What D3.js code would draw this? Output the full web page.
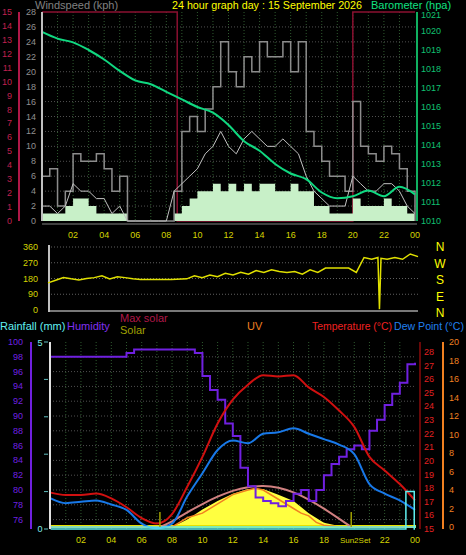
<!DOCTYPE html><html><head><meta charset="utf-8"><script src="https://cdn.jsdelivr.net/npm/d3@7"></script>
<style>body{margin:0;background:#000}svg{display:block}text{font-family:"Liberation Sans",Arial,sans-serif}</style></head><body>
<script>
// ---- data ----
const hours = d3.range(0,25);
const halfHours = d3.range(0,24.01,0.5);
const windGust = [6,7,2,4,9,8,8,9,7,4,6,0,0,0,0,0,0,4,12,14,12,15,18,24,20,18,22,20,24,22,22,24,20,24,12,10,8,6,6,4,16,10,9,8,10,9,7,4,0];
const windMid  = [2,2,1,2,5,4,4,3,3,1,2,0,0,0,0,0,0,4,5,6,7,9,10,12,10,9,11,12,11,10,10,11,10,9,6,4,3,2,2,2,6,5,4,4,5,5,4,2,1];
const windAvg  = [1,1,1,2,3,3,2,1,1,1,1,0,0,0,0,0,0,1,2,3,4,4,5,4,5,4,5,4,5,5,4,4,5,4,4,2,2,1,1,1,3,2,2,2,3,2,2,1,0];
const baro = [1019.95,1019.6,1019.4,1019.0,1018.5,1017.9,1017.4,1017.2,1016.8,1016.4,1016.0,1015.7,1015.05,1014.2,1013.7,1013.0,1012.5,1012.2,1011.5,1011.2,1011.3,1011.6,1011.3,1011.8,1011.4];
const dirTimes = [0,0.5,1,1.5,2,2.5,3,3.5,4,4.5,5,5.5,6,7,8,9,9.5,10,10.5,11,11.5,12,12.5,13,13.5,14,14.5,15,15.5,16,16.5,17,17.5,18,19,19.5,20,20.5,21,21.4,21.5,21.6,22,22.5,23,23.5,24];
const dirVals  = [155,170,185,178,172,180,185,195,178,190,185,178,175,175,175,178,195,185,200,190,210,200,215,205,225,215,230,220,215,220,205,230,215,240,240,240,215,300,290,300,5,295,290,300,290,320,305];
const tempC = [17.67,17.5,17.5,17.6,17.25,16.6,15.8,15.4,16.1,18.1,20.3,22.75,24.5,25.6,26.3,26.2,26.3,25.4,24.7,23.7,22.5,20.3,19.3,18.3,17.1];
const dewC  = [17.25,16.9,17.0,17.1,16.8,16.4,15.4,15.05,15.4,17.4,19.1,20.8,21.5,21.3,22.0,22.1,22.4,22.0,21.6,21.2,20.5,18.3,17.6,17.1,16.4];
const humidity = [98,98,98,98,98,98,98,98,98,98,98.5,99,99,99,99,99,99,99,99,98.5,95.4,93.5,92.2,89,87.3,83,80.5,79,78.5,78.2,77.8,78.5,79.5,80,78.5,80,82,83.5,84.5,85.5,86,85.5,88,89.5,91.5,93,94.5,97,97.2];
const solarT = [7,8,8.5,9,10,11,12,13,14,15,16,17,18,19,20,24];
const solarV = [0,20,80,160,380,560,720,820,820,700,560,300,90,20,0,0];
const maxSolarT = [7.2,8,9,10,11,12,13,14,15,16,17,18,19,19.8];
const maxSolarV = [0,110,320,500,660,790,870,895,860,760,600,400,180,0];
const uvT = [0,8,8.5,9,10,11,12,13,13.5,14,15,16,16.5,17,17.5,18,19,24];
const uvV = [0,0,0.5,1,1.5,2.5,3.5,4,4.2,4,3,2,1.5,1.2,0.5,0.2,0,0];
const rainT = [0,23.4,23.95,24];
const rainV = [0,1.0,0,0];
const hourLabels = ["02","04","06","08","10","12","14","16","18","20","22","00"];
const dirLabels = ["N","W","S","E","N"];

const svg = d3.select("body").append("svg").attr("width",466).attr("height",555);
const fs = 10;
function txt(x,y,s,c,size,anchor){return svg.append("text").attr("x",x).attr("y",y).attr("fill",c).attr("font-size",size||fs).attr("text-anchor",anchor||"start").text(s);}
function grid(g,x,y,xs,ys,x0,x1,y0,y1){
  xs.forEach(v=>g.append("line").attr("x1",x(v)).attr("x2",x(v)).attr("y1",y0).attr("y2",y1).attr("stroke","#2f5a2f").attr("stroke-dasharray","1,2"));
  ys.forEach(v=>g.append("line").attr("x1",x0).attr("x2",x1).attr("y1",y(v)).attr("y2",y(v)).attr("stroke","#505050").attr("stroke-dasharray","1,2"));
}
function hourAxis(x,y){hourLabels.forEach((l,i)=>txt(x((i+1)*2),y,l,"#d4d400",9,"middle"));}

// ---- top panel ----
const xT = d3.scaleLinear().domain([0,24]).range([42,415]);
const yW = d3.scaleLinear().domain([0,28]).range([221,12]);
const yB = d3.scaleLinear().domain([1010,1021]).range([221,12]);
const yR = d3.scaleLinear().domain([0,15]).range([221,12]);
const gT = svg.append("g");
grid(gT,xT,yW,d3.range(1,24),d3.range(2,28,2),42,415,12,221);
gT.append("path").attr("d",d3.line()([[xT(0),12],[xT(8.7),12],[xT(8.7),221],[xT(20),221],[xT(20),12],[xT(24),12]])).attr("fill","none").attr("stroke","#8a1030").attr("stroke-width",1.5);
gT.append("path").datum(halfHours).attr("fill","#c8f0c8").attr("d",d3.area().curve(d3.curveStepAfter).x(t=>xT(t)).y0(yW(0)).y1((t,i)=>yW(windAvg[i])));
gT.append("path").datum(halfHours).attr("fill","none").attr("stroke","#8c8c8c").attr("stroke-width",1.5).attr("d",d3.line().curve(d3.curveStepAfter).x(t=>xT(t)).y((t,i)=>yW(windGust[i])));
gT.append("path").datum(halfHours).attr("fill","none").attr("stroke","#c0c0c0").attr("d",d3.line().x(t=>xT(t)).y((t,i)=>yW(windMid[i])));
gT.append("path").datum(hours).attr("fill","none").attr("stroke","#10d880").attr("stroke-width",2).attr("d",d3.line().curve(d3.curveMonotoneX).x(t=>xT(t)).y((t,i)=>yB(baro[i])));
gT.append("line").attr("x1",42).attr("x2",42).attr("y1",12).attr("y2",221).attr("stroke","#c0c0c0").attr("stroke-width",2);
gT.append("line").attr("x1",19).attr("x2",19).attr("y1",12).attr("y2",221).attr("stroke","#b01848").attr("stroke-width",2);
gT.append("line").attr("x1",417).attr("x2",417).attr("y1",12).attr("y2",221).attr("stroke","#10b060").attr("stroke-width",2);
gT.append("line").attr("x1",42).attr("x2",417).attr("y1",224).attr("y2",224).attr("stroke","#404040").attr("stroke-width",2);
d3.range(0,29,2).forEach(v=>txt(36,yW(v)+3,v,"#909090",9,"end"));
d3.range(0,16).forEach(v=>txt(12,yR(v)+3,v,"#c02050",9,"end"));
d3.range(1010,1022).forEach(v=>txt(421,v===1021?yB(v)+6:yB(v)+3,v,"#10c070",9));
hourAxis(xT,238);
txt(35,9,"Windspeed (kph)","#808080",11);
txt(172,9,"24 hour graph day : 15 September 2026","#ffff00",11).attr("textLength",190).attr("lengthAdjust","spacingAndGlyphs");
txt(371,9,"Barometer (hpa)","#10e080",11);

// ---- direction panel ----
const xD = d3.scaleLinear().domain([0,24]).range([48,418]);
const yD = d3.scaleLinear().domain([0,360]).range([310,247]);
const gD = svg.append("g");
[90,180,270,360].forEach(v=>gD.append("line").attr("x1",48).attr("x2",418).attr("y1",yD(v)).attr("y2",yD(v)).attr("stroke","#606060").attr("stroke-dasharray","1,2"));
gD.append("line").attr("x1",48).attr("x2",418).attr("y1",311).attr("y2",311).attr("stroke","#a0a0a0").attr("stroke-width",1.5);
gD.append("line").attr("x1",49).attr("x2",49).attr("y1",245).attr("y2",312).attr("stroke","#c0c0c0").attr("stroke-width",2);
gD.append("path").attr("fill","none").attr("stroke","#e0e000").attr("stroke-width",1.5).attr("d",d3.line().x((t)=>xD(t)).y((t,i)=>yD(dirVals[i]))(dirTimes));
[0,90,180,270,360].forEach(v=>txt(38,yD(v)+3,v,"#d4d400",9,"end"));
dirLabels.forEach((l,i)=>txt(440,251+i*16.5,l,"#ffff00",12,"middle"));

// ---- bottom panel ----
const xB = d3.scaleLinear().domain([0,24]).range([50.6,415]);
const yH = d3.scaleLinear().domain([75,100]).range([527,342]);
const yTe = d3.scaleLinear().domain([15,28]).range([529,352]);
const yUV = d3.scaleLinear().domain([0,20]).range([527,342]);
const yS = d3.scaleLinear().domain([0,4000]).range([527,342]);
const yRn = d3.scaleLinear().domain([0,5]).range([529,342]);
const gB = svg.append("g");
grid(gB,xB,yH,d3.range(1,24),d3.range(76,100,2),50,416,342,529);
gB.append("path").datum(solarT).attr("fill","#ffff40").attr("d",d3.area().x(t=>xB(t)).y0(yS(0)).y1((t,i)=>yS(solarV[i])));
gB.append("rect").attr("x",50).attr("y",525).attr("width",366).attr("height",3).attr("fill","#e8e000");
gB.append("path").datum(maxSolarT).attr("fill","none").attr("stroke","#d08080").attr("stroke-width",2).attr("d",d3.line().curve(d3.curveBasis).x(t=>xB(t)).y((t,i)=>yS(maxSolarV[i])));
gB.append("path").datum(uvT).attr("fill","none").attr("stroke","#f08020").attr("stroke-width",1.5).attr("d",d3.line().x(t=>xB(t)).y((t,i)=>yUV(uvV[i])));
gB.append("path").datum(halfHours).attr("fill","none").attr("stroke","#7020e0").attr("stroke-width",2).attr("d",d3.line().curve(d3.curveStepAfter).x(t=>xB(t)).y((t,i)=>yH(humidity[i])));
gB.append("path").datum(hours).attr("fill","none").attr("stroke","#d01010").attr("stroke-width",2).attr("d",d3.line().curve(d3.curveMonotoneX).x(t=>xB(t)).y((t,i)=>yTe(tempC[i])));
gB.append("path").datum(hours).attr("fill","none").attr("stroke","#1878e8").attr("stroke-width",2).attr("d",d3.line().curve(d3.curveMonotoneX).x(t=>xB(t)).y((t,i)=>yTe(dewC[i])));
gB.append("path").datum(rainT).attr("fill","none").attr("stroke","#60f0f0").attr("stroke-width",1.5).attr("d",d3.line().curve(d3.curveStepAfter).x(t=>xB(t)).y((t,i)=>yRn(rainV[i])));
gB.append("line").attr("x1",50).attr("x2",416).attr("y1",527).attr("y2",527).attr("stroke","#60f0f0").attr("stroke-width",1.5);
[7.2,19.8].forEach(t=>gB.append("line").attr("x1",xB(t)).attr("x2",xB(t)).attr("y1",512).attr("y2",527).attr("stroke","#a0a000").attr("stroke-width",1.5));
gB.append("line").attr("x1",50).attr("x2",50).attr("y1",342).attr("y2",529).attr("stroke","#e0e0e0").attr("stroke-width",2);
gB.append("line").attr("x1",31).attr("x2",31).attr("y1",342).attr("y2",529).attr("stroke","#7020e0").attr("stroke-width",2);
gB.append("line").attr("x1",420).attr("x2",420).attr("y1",342).attr("y2",529).attr("stroke","#d01010").attr("stroke-width",1);
gB.append("line").attr("x1",443).attr("x2",443).attr("y1",342).attr("y2",529).attr("stroke","#f08020").attr("stroke-width",2);
d3.range(76,101,2).forEach(v=>txt(23,yH(v)+3,v,"#7020e0",9,"end"));
[0,1,2,3,4,5].forEach(v=>gB.append("line").attr("x1",44).attr("x2",48).attr("y1",yRn(v)).attr("y2",yRn(v)).attr("stroke","#60c0c0"));
txt(40,yRn(5)+4,"5","#80f0f0",9,"middle");txt(40,yRn(0)+3,"0","#80f0f0",9,"middle");
d3.range(15,29).forEach(v=>txt(424,yTe(v)+3,v,"#e02020",9));
d3.range(0,21,2).forEach(v=>txt(449,yUV(v)+3,v,"#f08020",9));
hourLabels.forEach((l,i)=>{const h=(i+1)*2; if(h!==20) txt(xB(h),543,l,"#d4d400",9,"middle");});
txt(xB(19.8)+4,543,"Sun2Set","#d4d400",8,"middle");
txt(0,330,"Rainfall (mm)","#60f0f0",11);
txt(67,330,"Humidity","#8030f0",11);
txt(120,322,"Max solar","#b01848",11);
txt(120,334,"Solar","#a0a000",11);
txt(247,330,"UV","#f08020",11);
txt(312,330,"Temperature (°C)","#f02020",11).attr("textLength",80).attr("lengthAdjust","spacingAndGlyphs");
txt(394,330,"Dew Point (°C)","#2080f0",11).attr("textLength",70).attr("lengthAdjust","spacingAndGlyphs");
</script></body></html>
